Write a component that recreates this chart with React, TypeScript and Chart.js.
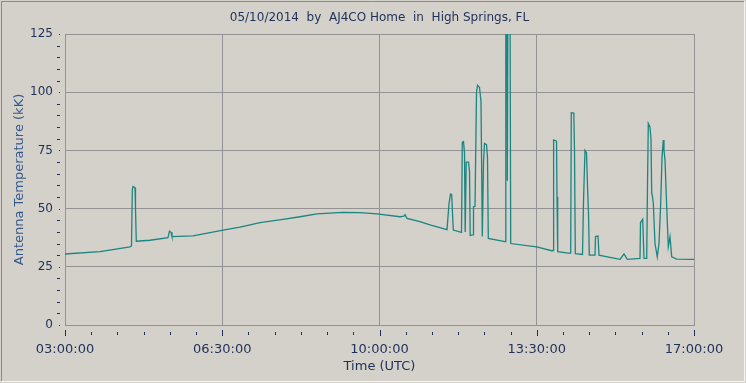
import { useEffect, useRef } from "react";
import { Chart, registerables } from "chart.js";

Chart.register(...registerables);

// ---- data (UTC clock time, antenna temperature in kK) ----
const times = [
  "03:00:00", "03:46:44", "04:26:48", "04:28:48", "04:29:53", "04:30:49", "04:33:29", "04:34:09", "04:35:13",
  "04:53:31", "05:17:33", "05:19:33", "05:21:34", "05:22:53", "05:50:56", "06:31:00", "06:53:42", "07:20:25",
  "07:51:08", "08:13:50", "08:36:32", "09:11:16", "09:33:58", "09:56:40", "10:27:23", "10:32:43", "10:34:03",
  "10:36:43", "10:54:05", "11:07:26", "11:30:08", "11:32:49", "11:34:49", "11:36:25", "11:37:29", "11:38:34",
  "11:49:31", "11:50:35", "11:52:11", "11:53:31", "11:54:27", "11:55:47", "11:58:52", "12:00:12", "12:01:08",
  "12:04:53", "12:05:33", "12:07:33", "12:09:33", "12:10:53", "12:13:33", "12:15:33", "12:17:18", "12:18:54",
  "12:20:14", "12:22:54", "12:24:14", "12:25:18", "12:47:36", "12:48:40", "12:50:01", "12:50:41", "12:52:01",
  "12:54:01", "12:55:13", "13:29:56", "13:49:58", "13:51:43", "13:52:31", "13:56:23", "13:57:03", "13:57:59",
  "14:14:24", "14:15:20", "14:16:08", "14:19:29", "14:20:25", "14:21:29", "14:31:06", "14:32:26", "14:34:26",
  "14:36:26", "14:37:46", "14:39:07", "14:40:11", "14:47:47", "14:48:28", "14:51:48", "14:53:08", "15:21:10",
  "15:26:31", "15:30:55", "15:47:53", "15:48:33", "15:51:29", "15:52:34", "15:53:14", "15:56:50", "15:57:54",
  "15:58:58", "16:01:14", "16:02:34", "16:03:31", "16:04:35", "16:05:39", "16:07:55", "16:10:59", "16:13:16",
  "16:15:32", "16:17:16", "16:19:00", "16:19:56", "16:21:16", "16:23:32", "16:25:41", "16:27:57", "16:30:13",
  "16:36:54", "17:00:00",
];

const temps = [
  30.5, 31.5, 33.6, 34, 58, 59.5, 59, 50, 36,
  36.4, 37.5, 40.3, 39.8, 38, 38.3, 40.8, 42, 44,
  45.4, 46.5, 47.7, 48.4, 48.3, 47.7, 46.5, 46.8, 47.4,
  45.8, 44.4, 43, 41, 52, 56.3, 56, 48, 40.8,
  39.8, 78.5, 78.8, 74, 40, 70, 70, 66, 38.5,
  38.7, 50.8, 51, 100, 103, 102, 96, 38, 70,
  78, 77.5, 72, 37.2, 35.8, 180, 180, 62, 180,
  180, 35, 33.6, 31.9, 32, 79.5, 79, 55, 31.5,
  30.8, 31, 91.2, 91, 75, 30.6, 30.3, 53, 75,
  74, 60, 48, 30, 30, 38, 38.2, 30, 28.2,
  30.5, 28.2, 28.6, 44, 45.4, 35, 28.6, 28.6, 60,
  86.6, 85, 80, 56.6, 55, 52.3, 35, 29.3, 35,
  52.4, 72, 79.5, 75, 70.9, 50.8, 33.6, 37.9, 29.3,
  28.3, 28.2,
];

const xTickLabels = ["03:00:00", "06:30:00", "10:00:00", "13:30:00", "17:00:00"];
const yTickLabels = ["0", "25", "50", "75", "100", "125"];

const chartTitle = "05/10/2014  by  AJ4CO Home  in  High Springs, FL";
const xTitle = "Time (UTC)";
const yTitle = "Antenna Temperature (kK)";

const START_MIN = 3 * 60; // axis starts at 03:00:00
const SPAN_MIN = 14 * 60; // to 17:00:00
const MAJOR_X = 210; // 3.5 h
const MINOR_X = 35;

const BG = "#d4d1cb";
const GRID = "#939393";
const NAVY = "#1e2f58";
const LINE = "#1b8582";

function toMin(t: string): number {
  const [h, m, s] = t.split(":").map(Number);
  return h * 60 + m + s / 60 - START_MIN;
}

const decoPlugin = {
  id: "deco",
  beforeDraw(chart: any) {
    const { ctx, width, height } = chart;
    ctx.save();
    ctx.fillStyle = BG;
    ctx.fillRect(0, 0, width, height);
    ctx.restore();
  },
  afterDraw(chart: any) {
    const { ctx, chartArea, width, height } = chart;
    const x = chart.scales.x;
    const y = chart.scales.y;
    ctx.save();
    ctx.strokeStyle = NAVY;
    ctx.lineWidth = 1;
    x.ticks.forEach((t: any) => {
      const px = Math.round(x.getPixelForValue(t.value)) + 0.5;
      const major = t.value % MAJOR_X === 0;
      ctx.beginPath();
      ctx.moveTo(px, chartArea.bottom + (major ? 5 : 7));
      ctx.lineTo(px, chartArea.bottom + (major ? 11 : 10));
      ctx.stroke();
    });
    y.ticks.forEach((t: any) => {
      const py = Math.round(y.getPixelForValue(t.value)) + 0.5;
      const major = t.value % 25 === 0;
      ctx.beginPath();
      ctx.moveTo(chartArea.left - (major ? 6 : 8), py);
      ctx.lineTo(chartArea.left - 5, py);
      ctx.stroke();
    });
    // window frame
    ctx.strokeStyle = "#8a8a8a";
    ctx.beginPath();
    ctx.moveTo(1.5, height - 2);
    ctx.lineTo(1.5, 1.5);
    ctx.lineTo(width - 2, 1.5);
    ctx.stroke();
    ctx.strokeStyle = "#f4f4f4";
    ctx.beginPath();
    ctx.moveTo(width - 1.5, 1);
    ctx.lineTo(width - 1.5, height - 1.5);
    ctx.lineTo(1, height - 1.5);
    ctx.stroke();
    ctx.restore();
  },
};

export default function App() {
  const ref = useRef<HTMLCanvasElement | null>(null);

  useEffect(() => {
    if (!ref.current) return;
    const points = times.map((t, i) => ({ x: toMin(t), y: temps[i] }));
    const chart = new Chart(ref.current, {
      type: "line",
      data: {
        datasets: [
          {
            data: points,
            borderColor: LINE,
            borderWidth: 1.3,
            pointRadius: 0,
            tension: 0,
            fill: false,
          },
        ],
      },
      options: {
        responsive: false,
        maintainAspectRatio: false,
        devicePixelRatio: 1,
        animation: false,
        layout: { padding: { left: 0, right: 52, top: 0, bottom: 0 } },
        plugins: {
          legend: { display: false },
          tooltip: { enabled: false },
          title: {
            display: true,
            fullSize: false,
            text: chartTitle,
            color: NAVY,
            font: { family: "DejaVu Sans", size: 12, weight: "normal" },
            padding: { top: 11, bottom: 8.6 },
          },
        },
        scales: {
          x: {
            type: "linear",
            min: 0,
            max: SPAN_MIN,
            afterFit: (s: any) => {
              s.height = 58;
            },
            ticks: {
              stepSize: MINOR_X,
              autoSkip: false,
              maxRotation: 0,
              color: NAVY,
              padding: 17,
              font: { family: "DejaVu Sans", size: 13 },
              callback: (v: any) => {
                const n = Number(v);
                return n % MAJOR_X === 0 ? xTickLabels[n / MAJOR_X] : "";
              },
            },
            grid: {
              drawTicks: false,
              color: (c: any) => (c.tick && c.tick.value % MAJOR_X === 0 ? GRID : "rgba(0,0,0,0)"),
            },
            border: { color: GRID },
            title: {
              display: true,
              text: xTitle,
              color: NAVY,
              font: { family: "DejaVu Sans", size: 13 },
              padding: { top: 0, bottom: 9 },
            },
          },
          y: {
            type: "linear",
            min: 0,
            max: 125,
            afterFit: (s: any) => {
              s.width = 65;
            },
            ticks: {
              stepSize: 5,
              autoSkip: false,
              color: NAVY,
              padding: 12,
              font: { family: "DejaVu Sans", size: 12 },
              callback: (v: any) => {
                const n = Number(v);
                return n % 25 === 0 ? yTickLabels[n / 25] : "";
              },
            },
            grid: {
              drawTicks: false,
              color: (c: any) => (c.tick && c.tick.value % 25 === 0 ? GRID : "rgba(0,0,0,0)"),
            },
            border: { color: GRID },
            title: {
              display: true,
              text: yTitle,
              color: "#34598f",
              font: { family: "DejaVu Sans", size: 13 },
              padding: { top: 12, bottom: 0 },
            },
          },
        },
      },
      plugins: [decoPlugin],
    });
    return () => chart.destroy();
  }, []);

  return (
    <div
      style={{
        position: "fixed",
        left: 0,
        top: 0,
        width: 746,
        height: 383,
        background: BG,
      }}
    >
      <canvas ref={ref} width={746} height={383} style={{ display: "block" }} />
    </div>
  );
}
